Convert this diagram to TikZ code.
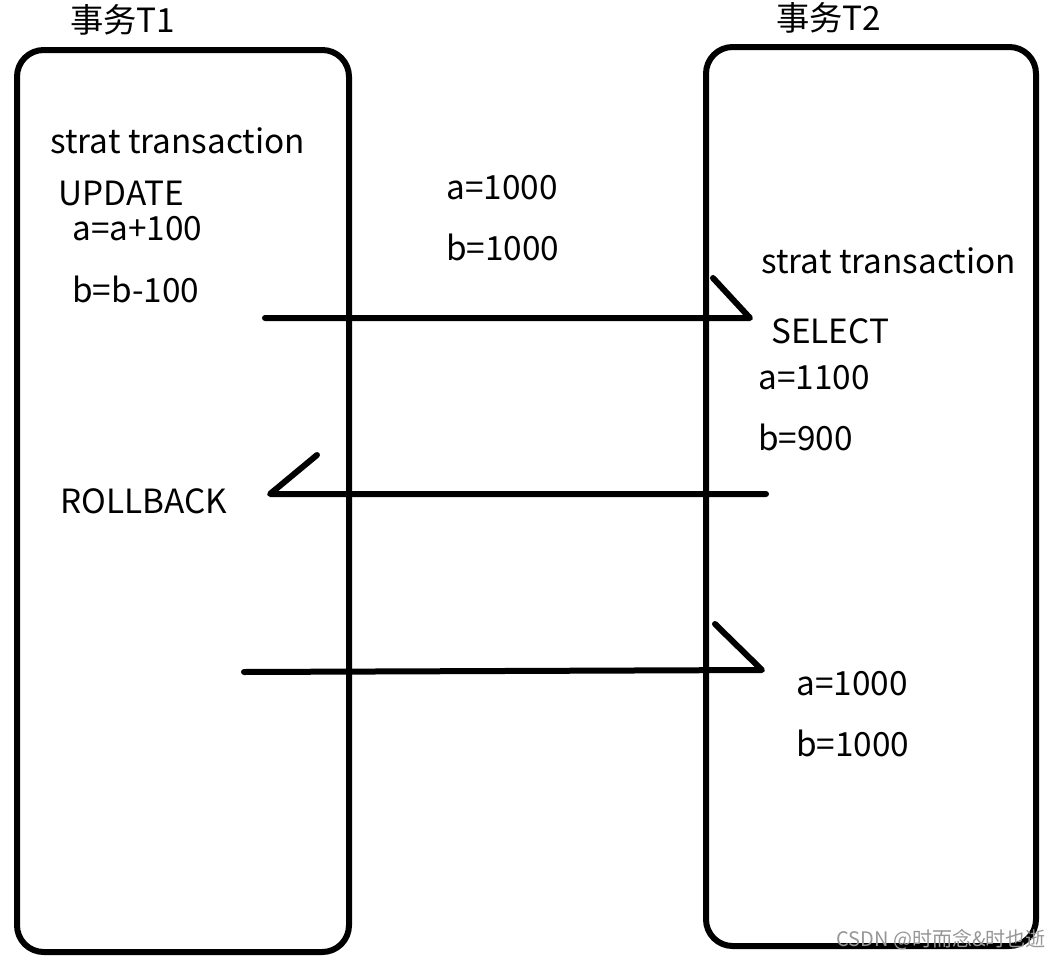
\documentclass[tikz,border=0pt]{standalone}
\usepackage{fontspec}
\setmainfont{Noto Sans CJK SC}
\usepackage{xcolor}
\definecolor{inkblack}{RGB}{0,0,0}
\definecolor{markgray}{RGB}{150,150,150}

\begin{document}
\begin{tikzpicture}[x=0.75pt, y=-0.75pt,
  txt/.style={anchor=west, inner sep=0pt, font=\fontsize{25}{29}\selectfont},
  pen/.style={inkblack, line width=4.5pt, line cap=round, line join=round}]

\useasboundingbox (0,0) rectangle (1057,960);

% 1. TRANSACTION BOXES
\draw[pen, rounded corners=20pt] (17,50) rectangle (349,952);
\draw[pen, rounded corners=20pt] (706,47) rectangle (1036,946);
\node[txt] (tone) at (70,20) {事务T1};
\node[txt] (ttwo) at (776,18) {事务T2};

% 2. TRANSACTION T1 TEXT
\node[txt] (startA) at (50,141) {strat transaction};
\node[txt] (upd) at (58,193) {UPDATE};
\node[txt] (incA) at (72,229) {a=a+100};
\node[txt] (decB) at (72,289) {b=b-100};
\node[txt] (rollback) at (60,501) {ROLLBACK};

% 3. STORED VALUES
\node[txt] (aInit) at (446,188) {a=1000};
\node[txt] (bInit) at (446,247) {b=1000};

% 4. TRANSACTION T2 TEXT
\node[txt] (startB) at (761,261) {strat transaction};
\node[txt] (sel) at (771,331) {SELECT};
\node[txt] (aDirty) at (758,378) {a=1100};
\node[txt] (bDirty) at (758,437) {b=900};
\node[txt] (aBack) at (796,684) {a=1000};
\node[txt] (bBack) at (796,743) {b=1000};

% 5. HAND-DRAWN ARROWS
\coordinate (readFrom) at (265,318);
\coordinate (readTo) at (750,318);
\coordinate (readHook) at (713,278);
\draw[pen] (readFrom) -- (readTo) -- (readHook);

\coordinate (rbFrom) at (766,494);
\coordinate (rbTo) at (270,494);
\coordinate (rbHook) at (317,455);
\draw[pen] (rbFrom) -- (rbTo) -- (rbHook);

\coordinate (againFrom) at (244,672);
\coordinate (againTo) at (762,670);
\coordinate (againHook) at (715,624);
\draw[pen] (againFrom) -- (againTo) -- (againHook);

% Watermark
\node[anchor=west, inner sep=0pt, text=markgray, font=\fontsize{15}{17}\selectfont] (mark) at (836,940) {CSDN @时而念\&时也逝};

\end{tikzpicture}
\end{document}
